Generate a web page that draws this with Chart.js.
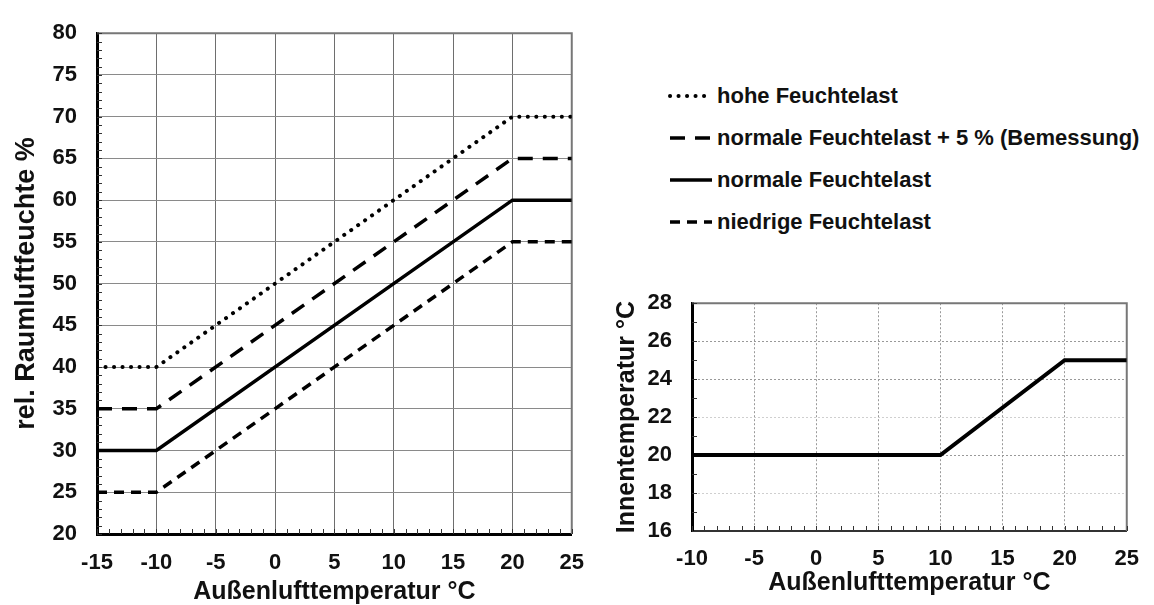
<!DOCTYPE html>
<html>
<head>
<meta charset="utf-8">
<script src="https://cdn.jsdelivr.net/npm/chart.js@4/dist/chart.umd.min.js"></script>
<style>
body { margin: 0; background: #fff; width: 1154px; height: 605px; position: relative; overflow: hidden; font-family: "Liberation Sans", Arial, sans-serif; }
#feuchte { position: absolute; left: 0; top: 0; }
#innen { position: absolute; left: 600px; top: 270px; }
#legende { position: absolute; left: 668px; top: 75px; }
.zeile { height: 42px; display: flex; align-items: center; font-weight: bold; font-size: 22px; color: #111; white-space: nowrap; }
.zeile svg { margin-right: 3px; }
</style>
</head>
<body>
<canvas id="feuchte" width="600" height="605"></canvas>
<canvas id="innen" width="554" height="335"></canvas>
<div id="legende"></div>
<script>
// DATEN - linkes Diagramm (Raumluftfeuchte)
const aussenTempL = [-15, -10, 20, 25];
const hoheFeuchtelast = [40, 40, 70, 70];
const normalPlus5 = [35, 35, 65, 65];
const normaleFeuchtelast = [30, 30, 60, 60];
const niedrigeFeuchtelast = [25, 25, 55, 55];
const feuchteTicks = [20, 25, 30, 35, 40, 45, 50, 55, 60, 65, 70, 75, 80];
const aussenTicksL = [-15, -10, -5, 0, 5, 10, 15, 20, 25];

// DATEN - rechtes Diagramm (Innentemperatur)
const aussenTempR = [-10, 10, 20, 25];
const innenTemp = [20, 20, 25, 25];
const innenTicks = [16, 18, 20, 22, 24, 26, 28];
const aussenTicksR = [-10, -5, 0, 5, 10, 15, 20, 25];

const SCHRIFT = '"Liberation Sans", Arial, sans-serif';

const serien = [
    { label: 'hohe Feuchtelast', werte: hoheFeuchtelast, dash: [0.1, 8.4], breite: 4, cap: 'round' },
    { label: 'normale Feuchtelast + 5 % (Bemessung)', werte: normalPlus5, dash: [15, 10], breite: 3.5, cap: 'butt' },
    { label: 'normale Feuchtelast', werte: normaleFeuchtelast, dash: [], breite: 3.5, cap: 'butt' },
    { label: 'niedrige Feuchtelast', werte: niedrigeFeuchtelast, dash: [10, 7], breite: 3.5, cap: 'butt' },
];

function punkte(xs, ys) {
    return xs.map((x, i) => ({ x: x, y: ys[i] }));
}

// Rahmen oben/rechts + kleine Teilstriche nach innen
const rahmen = {
    id: 'rahmen',
    beforeDatasetsDraw(chart) {
        const { ctx, chartArea: a, scales: { x, y } } = chart;
        ctx.save();
        ctx.strokeStyle = '#777';
        ctx.lineWidth = 2;
        ctx.beginPath();
        ctx.moveTo(a.left, a.top);
        ctx.lineTo(a.right, a.top);
        ctx.lineTo(a.right, a.bottom);
        ctx.stroke();
        ctx.strokeStyle = '#333';
        ctx.lineWidth = 1;
        ctx.beginPath();
        for (let v = x.min; v <= x.max; v++) {
            const px = Math.round(x.getPixelForValue(v)) + 0.5;
            ctx.moveTo(px, a.bottom);
            ctx.lineTo(px, a.bottom - 5);
        }
        for (let v = y.min; v <= y.max; v++) {
            const py = Math.round(y.getPixelForValue(v)) + 0.5;
            ctx.moveTo(a.left, py);
            ctx.lineTo(a.left + 5, py);
        }
        ctx.stroke();
        ctx.restore();
    }
};

function achse(min, max, ticks, titel, opts) {
    return {
        type: 'linear',
        min: min,
        max: max,
        afterBuildTicks: s => { s.ticks = ticks.map(v => ({ value: v })); },
        afterFit: s => { if (opts.breite) s.width = opts.breite; if (opts.hoehe) s.height = opts.hoehe; },
        ticks: { color: '#111', padding: opts.pad, font: { family: SCHRIFT, size: 22, weight: 'bold' } },
        grid: { color: opts.gitter, lineWidth: 1, drawTicks: false },
        border: { color: opts.randFarbe, width: opts.randBreite, dash: opts.dash || [] },
        title: { display: true, text: titel, color: '#111', padding: opts.titelPad,
                 font: { family: SCHRIFT, size: opts.titelGroesse || 25, weight: 'bold', lineHeight: 1 } }
    };
}

// LINKES DIAGRAMM
new Chart(document.getElementById('feuchte'), {
    type: 'line',
    data: {
        datasets: serien.map(s => ({
            label: s.label,
            data: punkte(aussenTempL, s.werte),
            borderColor: '#000',
            borderWidth: s.breite,
            borderDash: s.dash,
            borderCapStyle: s.cap,
            pointRadius: 0,
            tension: 0,
            fill: false
        }))
    },
    options: {
        responsive: false,
        devicePixelRatio: 1,
        animation: false,
        layout: { padding: { left: 0, right: 22, top: 24, bottom: 0 } },
        plugins: { legend: { display: false }, tooltip: { enabled: false } },
        scales: {
            x: achse(-15, 25, aussenTicksL, 'Außenlufttemperatur °C',
                { hoehe: 71, pad: 16, gitter: '#6e6e6e', randFarbe: '#000', randBreite: 3, titelPad: { top: 0, bottom: 0 } }),
            y: achse(20, 80, feuchteTicks, 'rel. Raumluftfeuchte %',
                { breite: 97, pad: 20, gitter: '#8a8a8a', randFarbe: '#000', randBreite: 3, titelGroesse: 27, titelPad: { top: 13, bottom: 0 } })
        }
    },
    plugins: [rahmen]
});

// RECHTES DIAGRAMM
new Chart(document.getElementById('innen'), {
    type: 'line',
    data: {
        datasets: [{
            label: 'Innentemperatur',
            data: punkte(aussenTempR, innenTemp),
            borderColor: '#000',
            borderWidth: 4,
            pointRadius: 0,
            tension: 0,
            fill: false
        }]
    },
    options: {
        responsive: false,
        devicePixelRatio: 1,
        animation: false,
        layout: { padding: { left: 0, right: 16, top: 22, bottom: 0 } },
        plugins: { legend: { display: false }, tooltip: { enabled: false } },
        scales: {
            x: achse(-10, 25, aussenTicksR, 'Außenlufttemperatur °C',
                { hoehe: 74, pad: 15, gitter: '#999', randFarbe: '#333', randBreite: 2, dash: [2, 2], titelPad: { top: 0, bottom: 9 } }),
            y: achse(16, 28, innenTicks, 'Innentemperatur °C',
                { breite: 92, pad: 20, gitter: c => (c.tick && (c.tick.value === 22 || c.tick.value === 18)) ? '#cfcfcf' : '#999',
                  randFarbe: '#000', randBreite: 3, dash: [2, 2], titelPad: { top: 15, bottom: 0 } })
        }
    },
    plugins: [rahmen]
});

// LEGENDE
const legende = document.getElementById('legende');
serien.forEach(s => {
    const zeile = document.createElement('div');
    zeile.className = 'zeile';
    zeile.innerHTML =
        '<svg width="46" height="20"><line x1="2" y1="10" x2="44" y2="10" stroke="#000" stroke-width="' + s.breite +
        '" stroke-linecap="' + s.cap + '" stroke-dasharray="' + (s.dash.length ? s.dash.join(' ') : 'none') + '"/></svg>' +
        '<span>' + s.label + '</span>';
    legende.appendChild(zeile);
});
</script>
</body>
</html>
